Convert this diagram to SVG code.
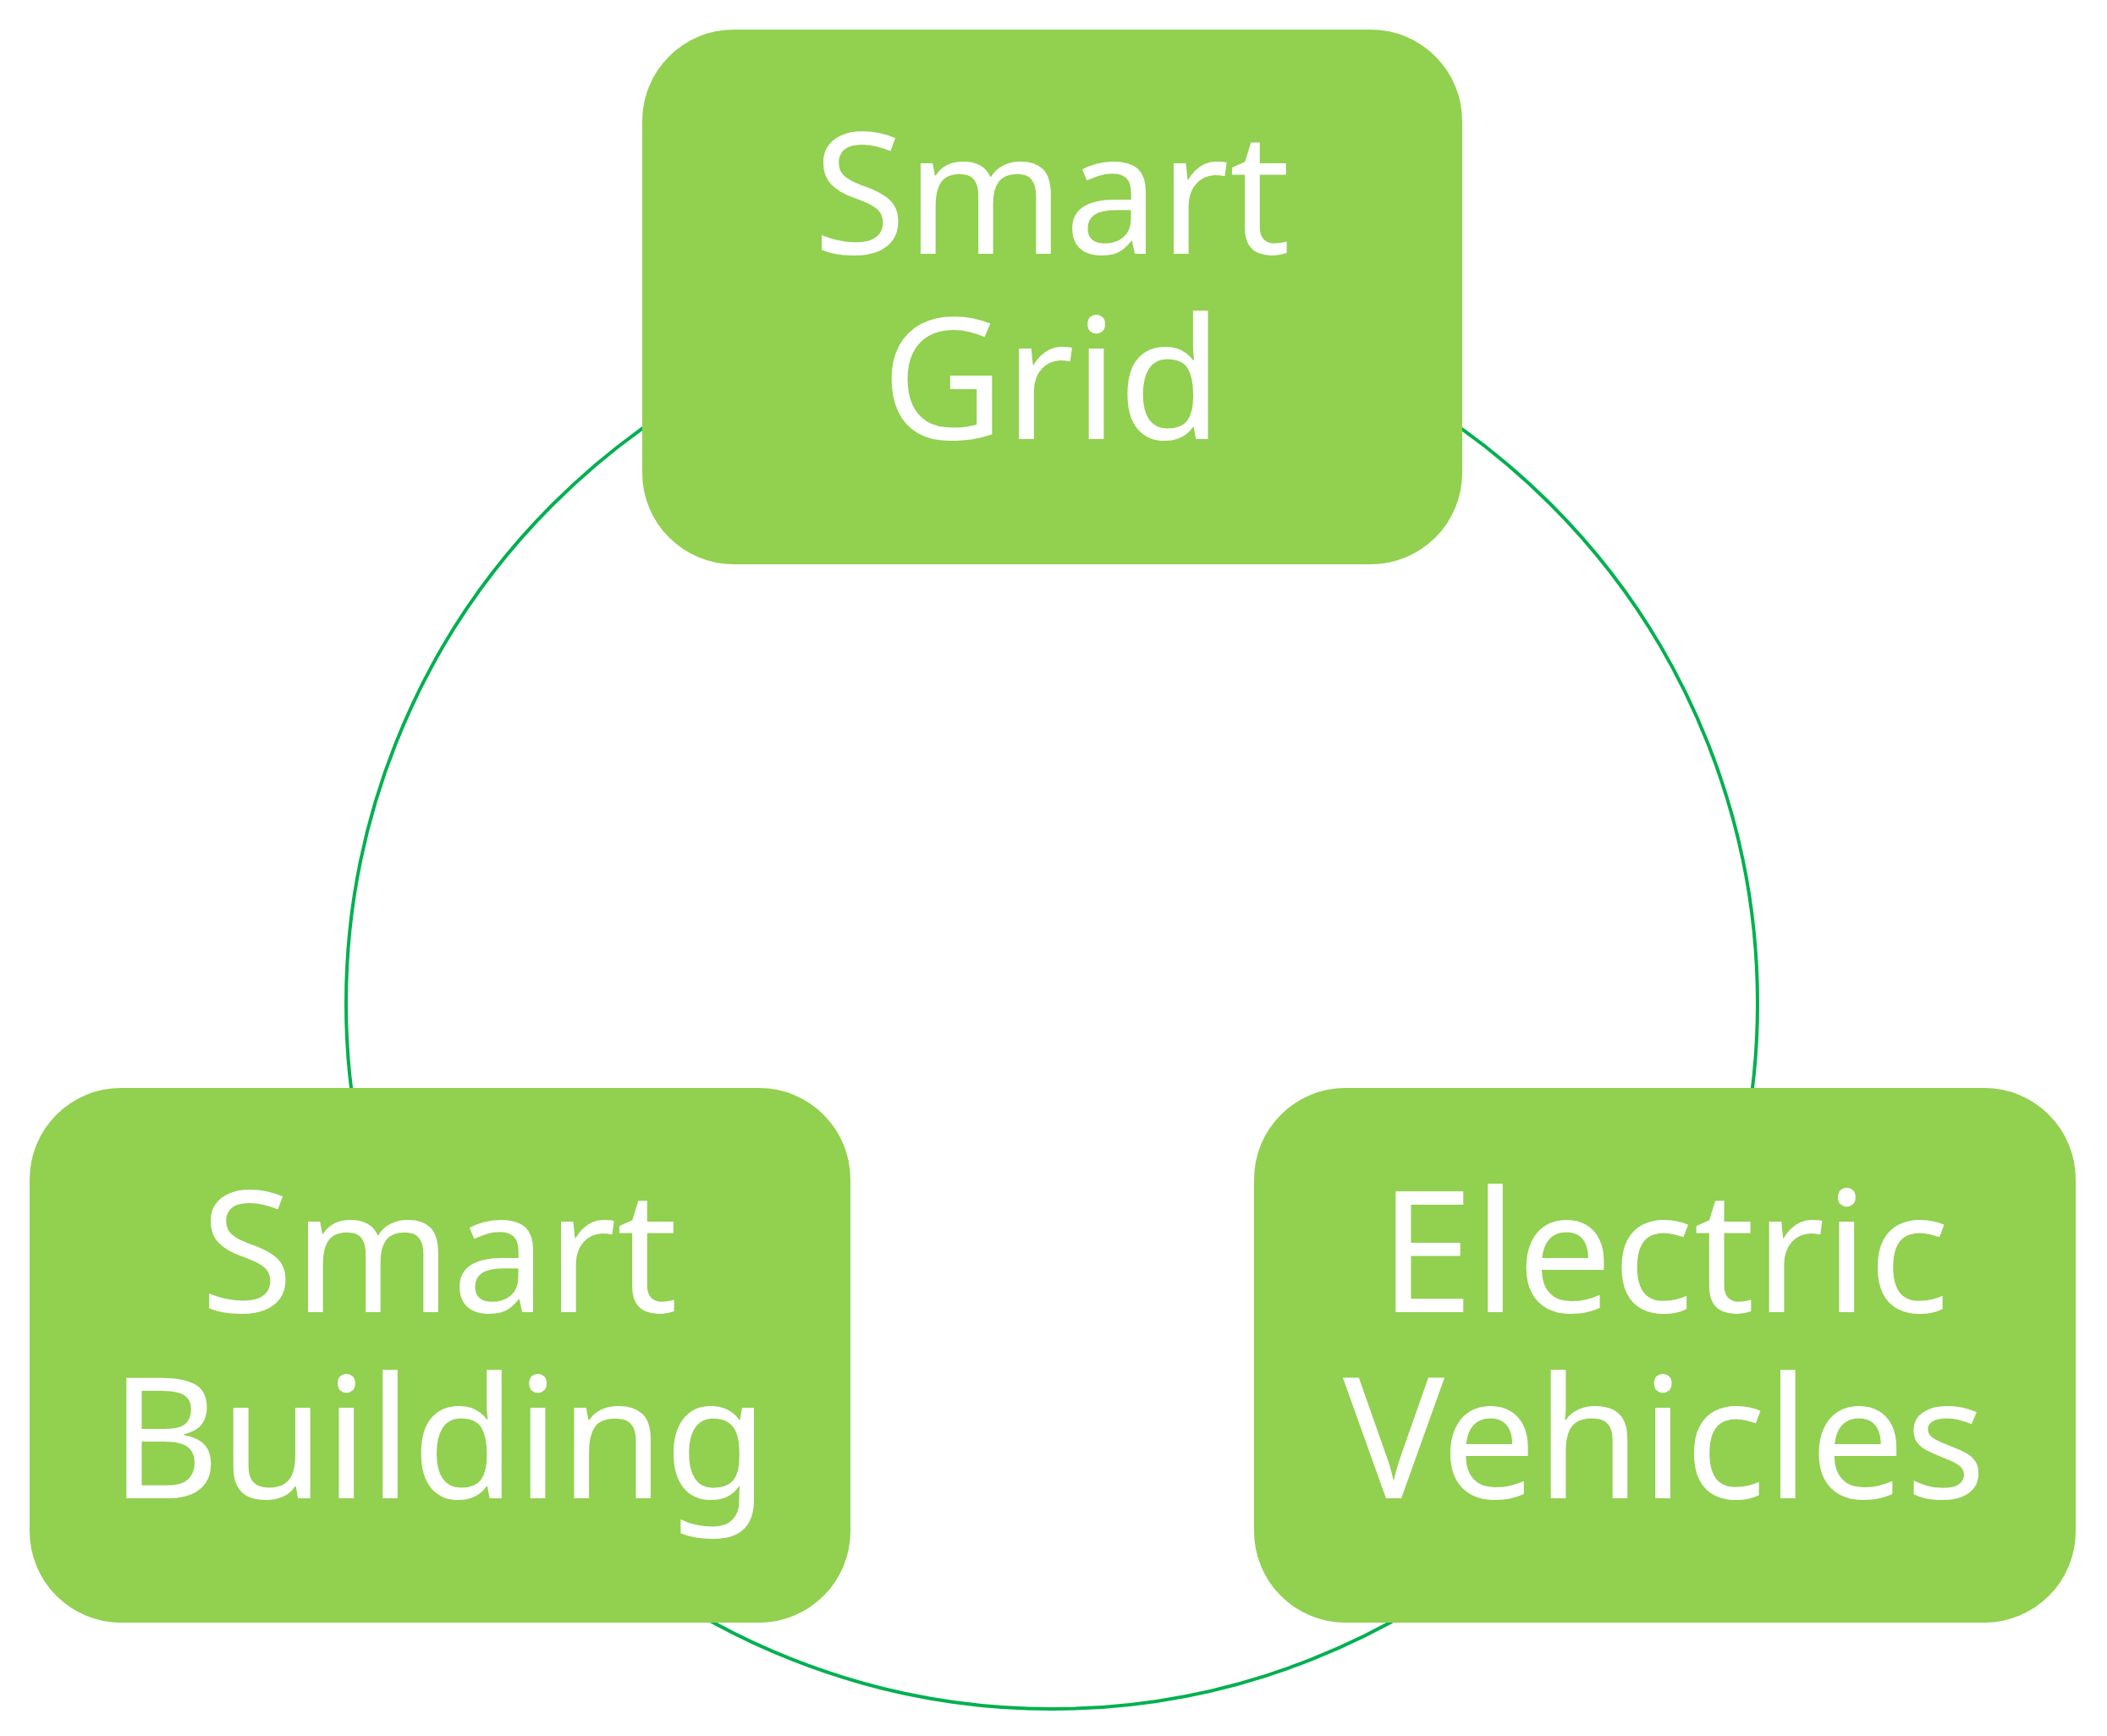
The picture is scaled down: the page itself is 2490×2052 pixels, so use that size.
<svg xmlns="http://www.w3.org/2000/svg" width="2490" height="2052" viewBox="0 0 2490 2052">
<style>
.box{fill:#92D050}
.t{fill:#fff;font-family:"Noto Sans","Open Sans",sans-serif;font-size:200px;text-anchor:middle}
</style>
<rect width="2490" height="2052" fill="#fff"/>
<g id="connectors">
<circle cx="1243" cy="1186" r="834" fill="none" stroke="#00B050" stroke-width="4"/>
</g>
<g id="smart-grid">
<rect class="box" x="759" y="35" width="969" height="632" rx="108"/>
<text class="t" x="1243" y="300">Smart</text>
<text class="t" x="1243" y="519">Grid</text>
</g>
<g id="smart-building">
<rect class="box" x="35" y="1286" width="970" height="632" rx="108"/>
<text class="t" x="519" y="1551">Smart</text>
<text class="t" x="519" y="1771">Building</text>
</g>
<g id="electric-vehicles">
<rect class="box" x="1482" y="1286" width="971" height="632" rx="108"/>
<text class="t" x="1967" y="1551">Electric</text>
<text class="t" x="1967" y="1771">Vehicles</text>
</g>
</svg>
